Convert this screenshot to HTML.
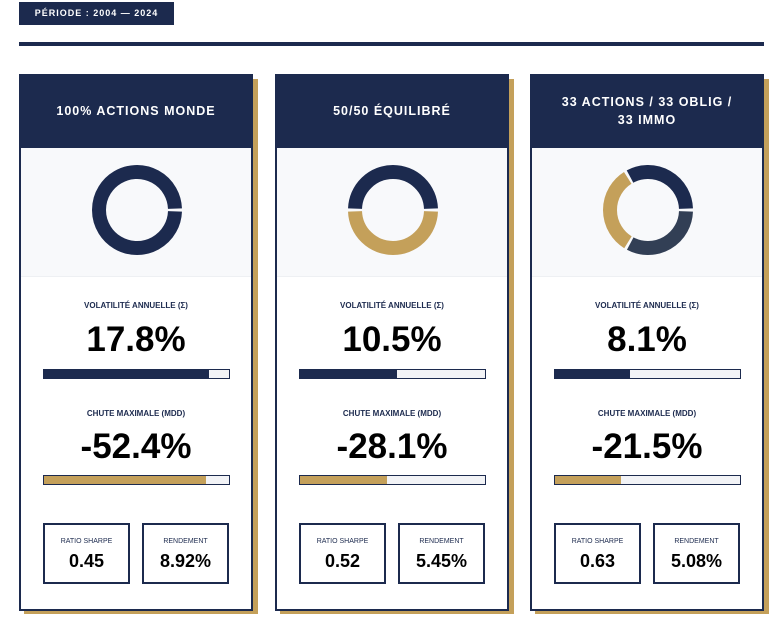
<!DOCTYPE html>
<html><head><meta charset="utf-8"><style>
body{margin:0;width:778px;height:619px;background:#fff;font-family:"Liberation Sans",sans-serif;position:relative;overflow:hidden}
.badge{position:absolute;left:19px;top:2px;width:155px;height:23px;background:#1c2a4e;color:#fff;font-size:9px;font-weight:bold;letter-spacing:1px;text-align:center;line-height:23px}
.rule{position:absolute;left:19px;top:42px;width:745px;height:4px;background:#1c2a4e}
.shadow{position:absolute;width:234px;height:535px;background:#c4a05a}
.card{position:absolute;top:74px;width:230px;height:533px;border:2px solid #1c2a4e;background:#fff}
.hd{height:74px;background:#1c2a4e;color:#fff;font-size:12.5px;font-weight:bold;letter-spacing:1px;display:flex;align-items:center;justify-content:center;text-align:center;line-height:18px;margin:-2px -2px 0 -2px}
.gray{height:128px;background:#f8f9fb;border-bottom:1px solid #eef0f3}
.lbl{font-size:8px;color:#1c2a4e;text-align:center;font-weight:bold}
.val{font-size:35px;font-weight:bold;text-align:center;color:#000;line-height:40px}
.bar{position:absolute;left:22px;width:185px;height:8px;border:1px solid #1c2a4e;background:#f2f3f6}
.bar div{height:100%}
.mini{position:absolute;top:447px;width:83px;height:57px;border:2px solid #1c2a4e;text-align:center}
.mini .l{font-size:7px;color:#1c2a4e;margin-top:13px}
.mini .v{font-size:18px;font-weight:bold;margin-top:6px}
</style></head><body>
<div class="badge">PÉRIODE : 2004 — 2024</div>
<div class="rule"></div>
<div id="root"></div>
<script>
const titles=["100% ACTIONS MONDE","50/50 ÉQUILIBRÉ","33 ACTIONS / 33 OBLIG /<br>33 IMMO"];
const vols=[17.8,10.5,8.1];
const mdds=[-52.4,-28.1,-21.5];
const sharpes=["0.45","0.52","0.63"];
const rends=["8.92%","5.45%","5.08%"];
const allocs=[[0,0,100],[0,50,50],[33.3,33.3,33.4]]; // immo, oblig, actions
const colors=["#323f55","#c4a05a","#1c2a4e"];
const lefts=[19,275,530];
const VMAX=20,MMAX=60;
function arc(cx,cy,r,a0,a1){const p=a=>[cx+r*Math.cos(a*Math.PI/180),cy+r*Math.sin(a*Math.PI/180)];const s=p(a0),e=p(a1);return `M${s[0]},${s[1]} A${r},${r} 0 ${a1-a0>180?1:0} 1 ${e[0]},${e[1]}`;}
const root=document.getElementById('root');
titles.forEach((t,i)=>{
  const x=lefts[i];
  const sh=document.createElement('div');sh.className='shadow';sh.style.left=(x+5)+'px';sh.style.top='79px';
  
  
  root.appendChild(sh);
  const c=document.createElement('div');c.className='card';c.style.left=x+'px';
  
  
  let segs='',a=0;
  allocs[i].forEach((v,k)=>{if(v<=0)return;const span=v/100*360;const gap=4;segs+=`<path d="${arc(116,62,38,a+gap/2,a+span-gap/2)}" stroke="${colors[k]}" stroke-width="14" fill="none"/>`;a+=span;});
  c.innerHTML=`<div class="hd">${t}</div>
  <div class="gray"><svg width="230" height="128">${segs}</svg></div>
  <div class="lbl" style="position:absolute;top:225px;width:100%">VOLATILITÉ ANNUELLE (Σ)</div>
  <div class="val" style="position:absolute;top:244px;width:100%">${vols[i].toFixed(1)}%</div>
  <div class="bar" style="top:293px"><div style="width:${vols[i]/VMAX*100}%;background:#1c2a4e"></div></div>
  <div class="lbl" style="position:absolute;top:333px;width:100%">CHUTE MAXIMALE (MDD)</div>
  <div class="val" style="position:absolute;top:351px;width:100%">${mdds[i].toFixed(1)}%</div>
  <div class="bar" style="top:399px"><div style="width:${Math.abs(mdds[i])/MMAX*100}%;background:#c4a05a"></div></div>
  <div class="mini" style="left:22px"><div class="l">RATIO SHARPE</div><div class="v">${sharpes[i]}</div></div>
  <div class="mini" style="left:121px"><div class="l">RENDEMENT</div><div class="v">${rends[i]}</div></div>`;
  root.appendChild(c);
});
</script>
</body></html>
